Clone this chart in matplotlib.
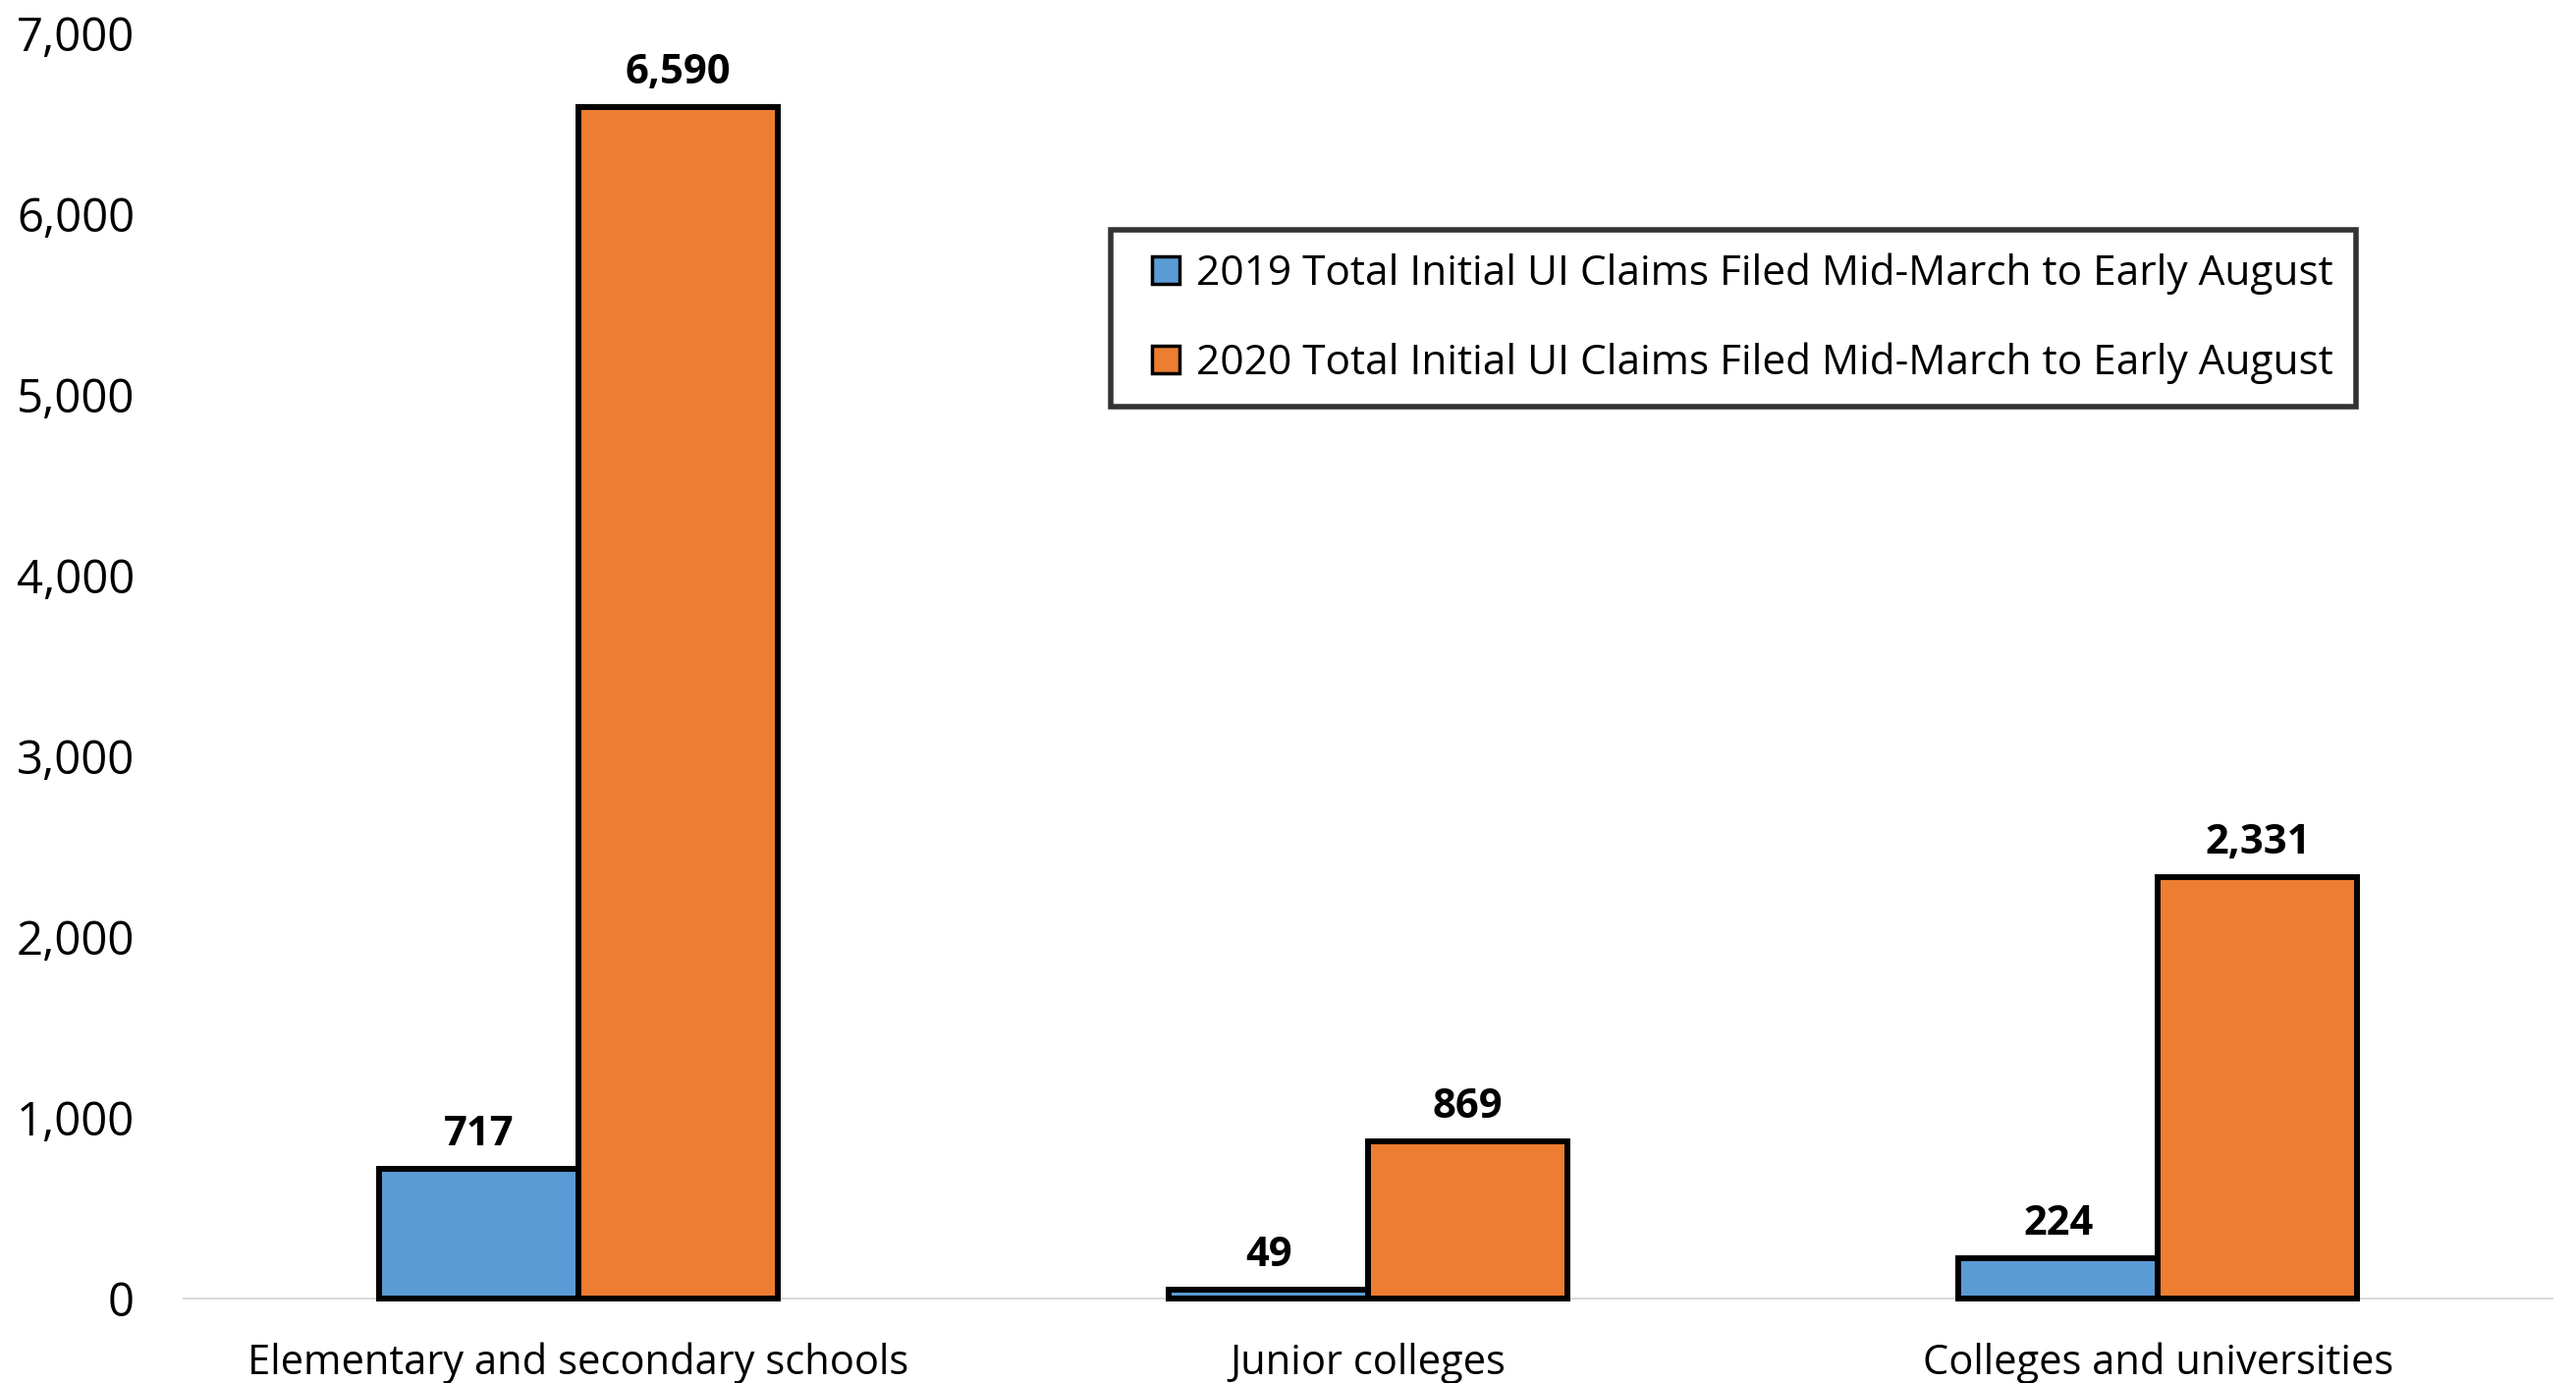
import numpy as np
import matplotlib.pyplot as plt
from matplotlib.patches import Rectangle
from matplotlib.container import BarContainer
from matplotlib.legend_handler import HandlerPatch
from matplotlib.ticker import FuncFormatter

plt.rcParams["font.family"] = ["Open Sans", "DejaVu Sans"]

# UI claims by school type
categories = ["Elementary and secondary schools", "Junior colleges", "Colleges and universities"]
claims_2019 = [717, 49, 224]
claims_2020 = [6590, 869, 2331]
series_labels = [
    "2019 Total Initial UI Claims Filed Mid-March to Early August",
    "2020 Total Initial UI Claims Filed Mid-March to Early August",
]
colors = ["#5B9BD5", "#ED7D31"]

fig = plt.figure(figsize=(26.23, 14.08), dpi=100)
ax = fig.add_axes([0.0713, 0.061, 0.9197, 0.915])

x = np.arange(len(categories))
width = 0.2525
edge_lw = 4.3

bars1 = ax.bar(x - width / 2, claims_2019, width, color=colors[0], edgecolor="black",
               linewidth=edge_lw, label=series_labels[0], zorder=3, clip_on=False)
bars2 = ax.bar(x + width / 2, claims_2020, width, color=colors[1], edgecolor="black",
               linewidth=edge_lw, label=series_labels[1], zorder=3, clip_on=False)

for bars in (bars1, bars2):
    ax.bar_label(bars, labels=[f"{v:,}" for v in bars.datavalues], padding=10,
                 fontsize=30, fontweight="bold")

ax.set_xlim(-0.5, 2.5)
ax.set_ylim(0, 7000)
ax.set_yticks(np.arange(0, 7001, 1000))
ax.yaxis.set_major_formatter(FuncFormatter(lambda v, p: f"{int(v):,}"))
ax.set_xticks(x)
ax.set_xticklabels(categories)
ax.tick_params(axis="y", length=0, pad=36, labelsize=34)
ax.tick_params(axis="x", length=0, pad=32, labelsize=30)

for side in ("top", "right", "left"):
    ax.spines[side].set_visible(False)
ax.spines["bottom"].set_color("#D9D9D9")
ax.spines["bottom"].set_linewidth(1.5)


# square legend marker pushed to the right side of its slot
def square_handle(legend, orig_handle, xdescent, ydescent, width, height, fontsize):
    return Rectangle((width - height - xdescent, -ydescent), height, height)


def style_from_bars(handle, container):
    handle.update_from(container.patches[0])


leg = ax.legend(loc="upper left", bbox_to_anchor=(1131 / 2623, 1 - 234 / 1408),
                bbox_transform=fig.transFigure, borderaxespad=0, fontsize=30.5,
                frameon=True, fancybox=False, edgecolor="black",
                handlelength=1.1, handleheight=0.65, handletextpad=0.4,
                labelspacing=1.15, borderpad=0.55,
                handler_map={BarContainer: HandlerPatch(patch_func=square_handle,
                                                        update_func=style_from_bars)})
leg.get_frame().set_linewidth(4.0)
for h in leg.legend_handles:
    h.set_linewidth(2.5)

fig.savefig("out.png", dpi=100, facecolor="white")
